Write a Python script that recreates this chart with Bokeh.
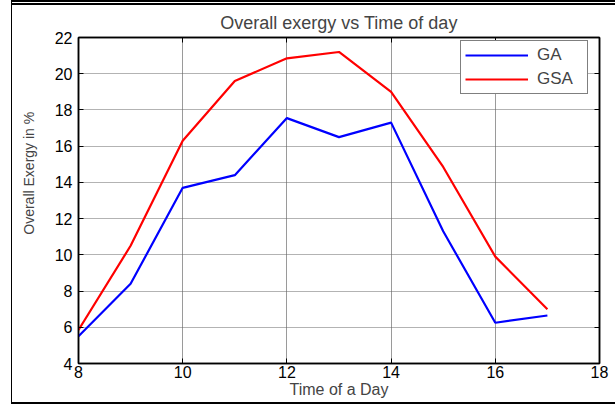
from bokeh.plotting import figure
from bokeh.models import Range1d, LinearAxis, Legend, LegendItem, CustomJSTickFormatter
from bokeh.embed import file_html
from bokeh.resources import INLINE

hours = [8, 9, 10, 11, 12, 13, 14, 15, 16, 17]
ga = [5.5, 8.4, 13.7, 14.4, 17.55, 16.5, 17.3, 11.3, 6.25, 6.65]
gsa = [5.85, 10.5, 16.3, 19.6, 20.85, 21.2, 19.0, 14.85, 9.9, 7.0]

x_ticks = [8, 10, 12, 14, 16, 18]
y_ticks = [4, 6, 8, 10, 12, 14, 16, 18, 20, 22]

FONT = "Liberation Sans"
NB = "\u00a0"

p = figure(width=604, height=404, output_backend="svg", toolbar_location=None,
           x_range=Range1d(8, 18), y_range=Range1d(4, 22),
           min_border_left=66, min_border_right=17, min_border_top=30, min_border_bottom=46,
           title="Overall exergy vs Time of day")
p.styles = {"margin-left": "11px", "border-left": "1.5px solid black",
            "border-top": "5px double black", "border-bottom": "2px solid black"}
p.background_fill_color = "white"
p.border_fill_color = "white"
p.outline_line_color = "black"
p.outline_line_width = 1.5

p.title.text_font = FONT
p.title.text_font_size = "18px"
p.title.text_font_style = "normal"
p.title.align = "center"
p.title.offset = -8

for ax in (p.xaxis[0], p.yaxis[0]):
    ax.axis_line_width = 1.5
    ax.major_tick_in = 5
    ax.major_tick_out = 0
    ax.minor_tick_in = 0
    ax.minor_tick_out = 0
    ax.major_label_text_font = FONT
    ax.major_label_text_font_size = "16px"
    ax.major_label_text_color = "black"
    ax.axis_label_text_font = FONT
    ax.axis_label_text_font_style = "normal"

p.xaxis[0].ticker = x_ticks
p.yaxis[0].ticker = y_ticks
p.xaxis[0].major_label_standoff = 2
p.xaxis[0].axis_label = "Time of a Day"
p.xaxis[0].axis_label_text_font_size = "16px"
p.xaxis[0].axis_label_standoff = 0
p.yaxis[0].major_label_standoff = 6
p.yaxis[0].axis_label = NB * 14 + "Overall Exergy in %"
p.yaxis[0].axis_label_text_font_size = "14px"
p.yaxis[0].axis_label_standoff = 15

blank = CustomJSTickFormatter(code="return ''")
top = LinearAxis(ticker=x_ticks, formatter=blank, major_tick_in=5,
                 major_tick_out=0, minor_tick_in=0, minor_tick_out=0, axis_line_width=1.5,
                 major_label_standoff=0)
right = LinearAxis(ticker=y_ticks, formatter=blank, major_tick_in=5,
                   major_tick_out=0, minor_tick_in=0, minor_tick_out=0, axis_line_width=1.5,
                   major_label_standoff=0)
p.add_layout(top, "above")
p.add_layout(right, "right")

p.xgrid.grid_line_color = "#9a9a9a"
p.xgrid.grid_line_width = 1
p.ygrid.grid_line_color = "#666666"
p.ygrid.grid_line_dash = "1 1"
p.ygrid.grid_line_width = 1
p.xgrid.ticker = x_ticks
p.ygrid.ticker = y_ticks

r1 = p.line(hours, ga, line_color="#0000ff", line_width=2.2)
r2 = p.line(hours, gsa, line_color="#ff0000", line_width=2.2)

legend = Legend(items=[LegendItem(label="GA", renderers=[r1]),
                       LegendItem(label="GSA", renderers=[r2])],
                location=(382, 269), label_text_font=FONT, label_text_font_size="17px",
                border_line_color="black", border_line_width=1.2, background_fill_alpha=1,
                padding=4, spacing=4, glyph_width=63, glyph_height=20, label_height=20,
                label_standoff=9, label_width=46, margin=0)
p.add_layout(legend, "center")

open("out.html", "w").write(file_html(p, INLINE))
